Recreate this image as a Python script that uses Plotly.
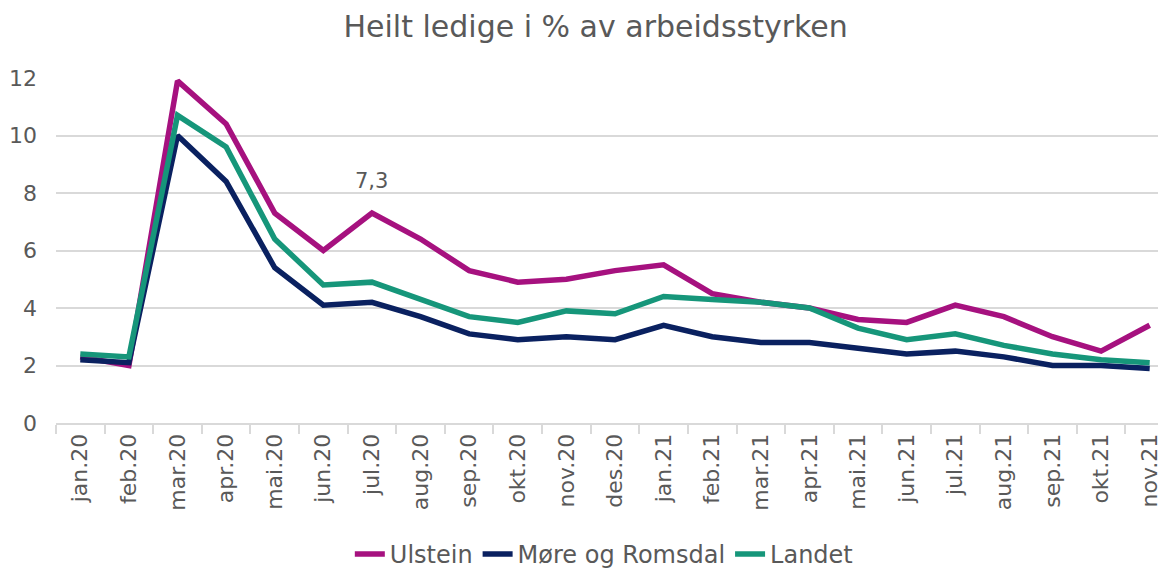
import plotly.graph_objects as go

months = ["jan.20", "feb.20", "mar.20", "apr.20", "mai.20", "jun.20", "jul.20", "aug.20",
          "sep.20", "okt.20", "nov.20", "des.20", "jan.21", "feb.21", "mar.21", "apr.21",
          "mai.21", "jun.21", "jul.21", "aug.21", "sep.21", "okt.21", "nov.21"]
ulstein = [2.3, 2.0, 11.9, 10.4, 7.3, 6.0, 7.3, 6.4, 5.3, 4.9, 5.0, 5.3, 5.5, 4.5, 4.2, 4.0,
           3.6, 3.5, 4.1, 3.7, 3.0, 2.5, 3.4]
more_romsdal = [2.2, 2.1, 10.0, 8.4, 5.4, 4.1, 4.2, 3.7, 3.1, 2.9, 3.0, 2.9, 3.4, 3.0, 2.8, 2.8,
                2.6, 2.4, 2.5, 2.3, 2.0, 2.0, 1.9]
landet = [2.4, 2.3, 10.7, 9.6, 6.4, 4.8, 4.9, 4.3, 3.7, 3.5, 3.9, 3.8, 4.4, 4.3, 4.2, 4.0,
          3.3, 2.9, 3.1, 2.7, 2.4, 2.2, 2.1]
yticks = [0, 2, 4, 6, 8, 10, 12]

FONT = "'DejaVu Sans', sans-serif"
GRAY = "#595959"

fig = go.Figure()
fig.add_trace(go.Scatter(x=months, y=ulstein, name="Ulstein", mode="lines",
                         line=dict(color="#A6117F", width=5.5)))
fig.add_trace(go.Scatter(x=months, y=more_romsdal, name="Møre og Romsdal", mode="lines",
                         line=dict(color="#0A2160", width=5.5)))
fig.add_trace(go.Scatter(x=months, y=landet, name="Landet", mode="lines",
                         line=dict(color="#16967A", width=5.5)))

fig.add_annotation(x=months[6], y=ulstein[6], text="7,3", showarrow=False,
                   yshift=32, font=dict(size=21, color=GRAY, family=FONT))

fig.update_layout(
    width=1166, height=569,
    paper_bgcolor="white", plot_bgcolor="white",
    margin=dict(l=48, r=0, t=70, b=154, autoexpand=False),
    title=dict(text="Heilt ledige i % av arbeidsstyrken", x=0.504, xanchor="center",
               y=0.967, yanchor="middle",
               font=dict(size=30, color=GRAY, family=FONT)),
    font=dict(family=FONT, color=GRAY, size=21),
    showlegend=True,
    legend=dict(orientation="h", x=0.49, xanchor="center", yref="container",
                y=-0.02, yanchor="bottom",
                font=dict(size=24, color=GRAY, family=FONT),
                tracegroupgap=0),
    xaxis=dict(type="category", tickangle=-90, showgrid=False, automargin=False,
               range=[-0.5, 22.5],
               showline=True, linecolor="#D9D9D9", linewidth=2,
               ticks="outside", tickson="boundaries", ticklen=9, tickcolor="#D9D9D9",
               tickwidth=1.5, tickfont=dict(size=22, color=GRAY, family=FONT)),
    yaxis=dict(range=[0, 12], tickvals=yticks, showgrid=True, gridcolor="#D9D9D9",
               gridwidth=1.5, zeroline=False, showline=False, automargin=False,
               tickfont=dict(size=22, color=GRAY, family=FONT), ticklabelstandoff=18),
)

fig.write_html("out.html")
